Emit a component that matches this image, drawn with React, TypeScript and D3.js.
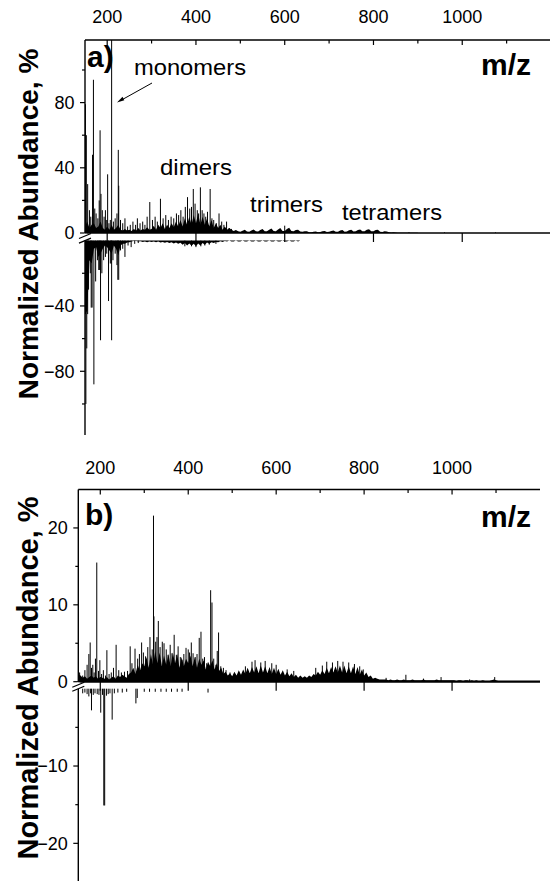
import React from "react";
import * as d3 from "d3";

// ---------- DATA ----------
const GRID_START = 150;
const GRID_STEP = 5;

const xMajorTicks = [200, 400, 600, 800, 1000];
const xMinorTicks = [300, 500, 700, 900, 1100];

const aYMajorPos = [0, 40, 80];
const aYMinorPos = [20, 60, 100];
const aYMajorNeg = [-40, -80];
const aYMinorNeg = [-20, -60, -100];

const bYMajorPos = [0, 10, 20];
const bYMinorPos = [5, 15];
const bYMajorNeg = [-10, -20];
const bYMinorNeg = [-5, -15];

// panel a, positive background envelope (m/z 150..900, every 5)
const aPosEnvelope = [
  4, 7, 3, 5, 6, 3, 4, 7, 3, 2,
  4, 2, 5, 2, 3, 5, 2, 1.5, 2.5, 1.5,
  2, 1.2, 2.5, 1.5, 3, 1.5, 2.5, 2, 3.5, 2,
  2.5, 4.5, 2, 5, 3, 6, 2.5, 5, 3, 6,
  3.5, 7, 4, 8, 4, 9, 5, 10, 5, 11,
  6, 12, 5, 10, 5, 9, 4, 8, 3, 6,
  3, 5, 2, 4, 2, 3,
  2, 1.2, 1.8, 1.0,
  0.8, 1.4, 2.0, 0.9, 0.8, 1.6, 2.2, 1.0, 0.9, 1.8,
  2.4, 1.1, 1.0, 2.0, 2.7, 1.2, 1.1, 2.2, 3.0, 1.3,
  1.2, 2.4, 3.2, 1.3, 1.0, 1.8, 2.0, 0.9, 0.7, 1.1,
  1.0, 0.5, 0.5, 0.8, 0.9, 0.5, 0.6, 1.0, 1.2, 0.6,
  0.7, 1.3, 1.5, 0.7, 0.8, 1.5, 1.8, 0.8, 0.9, 1.7,
  2.0, 0.9, 1.0, 1.9, 2.2, 1.0, 1.0, 2.0, 2.3, 1.0,
  1.0, 1.8, 2.0, 0.8, 0.6, 1.0, 0.9, 0.4, 0.3, 0.4,
  0.3, 0.2, 0.2, 0.1, 0.2, 0.1, 0.1, 0.1, 0.1, 0.1,
  0.1,
];

const aPosPeaks: [number, number][] = [
  [151, 79], [153, 60], [156, 30], [160, 14], [163, 10], [167, 48], [169, 94],
  [172, 15], [175, 12], [179, 9], [182, 20], [184, 63], [186, 24], [189, 14],
  [193, 10], [196, 14], [199, 8], [201, 36], [204, 6], [207, 8], [210, 120],
  [214, 7], [218, 9], [222, 12], [225, 51], [226, 29], [230, 8], [235, 6],
  [240, 9], [246, 4], [252, 5], [258, 7], [264, 5], [268, 9], [274, 6],
  [280, 7], [285, 5], [290, 10], [296, 19], [302, 8], [308, 10], [313, 7],
  [320, 21], [326, 9], [332, 11], [338, 8], [344, 10], [350, 9], [356, 12],
  [361, 11], [366, 14], [371, 10], [376, 16], [381, 22], [386, 15], [390, 16],
  [394, 27], [398, 18], [403, 14], [406, 12], [410, 28], [414, 14], [418, 12],
  [422, 10], [426, 13], [432, 27], [436, 9], [440, 8], [446, 6], [452, 12],
  [458, 7], [463, 5], [469, 7], [475, 3], [480, 2.5], [600, 4.5],
  [880, 0.5], [960, 0.4], [1075, 0.4],
];

// panel a, negative background envelope (m/z 150..645, every 5)
const aNegEnvelope = [
  -45, -43, -12, -14, -5, -4, -10, -8, -5, -3,
  -4, -6, -8, -3, -5, -9, -3, -2, -2, -1.2,
  -1, -0.5, -0.3, -0.2, -0.5, -0.4, -0.8, -0.6, -1, -0.6,
  -0.8, -0.5, -1, -0.6, -1.2, -0.8, -1.3, -0.8, -1.5, -1,
  -1.8, -1.2, -2, -1.3, -2.5, -1.5, -3, -1.8, -3.2, -2,
  -3.5, -1.8, -3, -1.5, -2.5, -1.2, -2, -1, -1.5, -0.8,
  -1, -0.4, -0.8, -0.3, -0.6, 0, -0.5, -0.5, 0, -0.5,
  -0.5, 0, -0.5, -0.5, 0, -0.5, -0.5, 0, -0.5, -0.5,
  0, -0.5, -0.5, 0, -0.5, -0.5, 0, -0.5, -0.5, 0,
  -0.5, -0.5, 0, -0.5, -0.5, 0, -0.5, 0, 0, 0,
];

const aNegPeaks: [number, number][] = [
  [151, -45], [152, -100], [154, -66], [156, -45], [158, -30], [162, -20],
  [164, -41], [166, -41], [170, -88], [174, -25], [178, -12], [181, -18],
  [183, -18], [185, -61], [188, -20], [192, -12], [196, -10], [199, -8],
  [203, -37], [207, -14], [209, -14], [210, -61], [213, -12], [218, -8],
  [222, -15], [224, -24], [226, -24], [230, -6], [235, -5], [240, -10],
  [247, -3], [254, -4], [262, -2], [270, -1.5], [375, -3.5], [390, -3.5],
  [400, -4], [411, -3.5], [420, -3], [430, -2.5], [445, -2],
];

// panel b, positive background envelope (m/z 150..1200, every 5)
const bPosEnvelope = [
  1.0, 0.8, 0.5, 0.7, 0.4, 0.6, 0.8, 0.5, 0.7, 0.4,
  0.6, 0.5, 0.4, 0.6, 0.3, 0.5, 0.7, 0.4, 0.8, 0.6,
  0.9, 0.7, 0.5, 1.0, 1.2, 1.8, 1.0, 2.2, 1.4, 2.4,
  2.0, 3.2, 1.8, 3.6, 2.2, 4.0, 2.4, 3.8, 2.0, 3.4,
  2.2, 3.6, 2.0, 3.8, 2.4, 3.6, 1.8, 3.2, 2.0, 3.0,
  2.4, 3.4, 2.0, 3.2, 1.8, 3.0, 2.2, 2.8, 1.6, 2.6,
  2.0, 2.8, 1.6, 2.4, 1.4, 1.8, 1.0, 1.3, 0.8, 1.1,
  0.7, 1.3, 0.8, 1.5, 0.9, 1.6, 1.0, 1.8, 1.1, 1.9,
  1.2, 2.0, 1.1, 2.1, 1.2, 2.0, 1.1, 1.9, 1.0, 1.8,
  1.0, 1.7, 0.9, 1.5, 0.8, 1.3, 0.7, 1.1, 0.6, 0.9,
  0.5, 0.8, 0.5, 0.7, 0.5, 0.8, 0.6, 1.0, 0.8, 1.3,
  0.9, 1.5, 1.0, 1.8, 1.1, 1.9, 1.2, 2.0, 1.2, 2.1,
  1.2, 2.1, 1.1, 2.0, 1.1, 2.0, 1.0, 1.9, 0.9, 1.6,
  0.8, 1.2, 0.6, 0.8, 0.4, 0.5, 0.4, 0.3, 0.3, 0.3,
  0.3, 0.2, 0.3, 0.2, 0.2, 0.3, 0.2, 0.2, 0.3, 0.2,
  0.2, 0.2, 0.3, 0.2, 0.2, 0.2, 0.2, 0.3, 0.2, 0.2,
  0.2, 0.2, 0.2, 0.3, 0.2, 0.2, 0.2, 0.2, 0.2, 0.2,
  0.2, 0.2, 0.1, 0.2, 0.2, 0.1, 0.2, 0.2, 0.1, 0.2,
  0.1, 0.2, 0.1, 0.1, 0.2, 0.1, 0.1, 0.1, 0.2, 0.3,
  0.2, 0.1, 0.1, 0.1, 0.1, 0.1, 0.1, 0.1, 0.1, 0.1,
  0.1, 0.1, 0.1, 0.1, 0.1, 0.1, 0.1, 0.1, 0.1, 0.1,
  0.1,
];

const bPosPeaks: [number, number][] = [
  [153, 1.2], [160, 0.8], [165, 1.5], [170, 2.2], [174, 3.6], [177, 5.1],
  [180, 1.8], [183, 2.2], [186, 1.2], [189, 3.0], [192, 15.5], [196, 1.4],
  [199, 2.8], [203, 1.0], [207, 1.5], [212, 0.8], [215, 4.1], [220, 1.0],
  [225, 1.2], [230, 1.8], [236, 4.8], [242, 1.5], [248, 1.2], [255, 1.3],
  [262, 1.4], [268, 4.6], [272, 2.4], [279, 4.3], [285, 3.0], [289, 3.6],
  [294, 5.1], [298, 3.8], [303, 3.3], [308, 4.5], [313, 5.8], [318, 4.2],
  [321, 21.6], [322, 8.5], [326, 5.2], [329, 5.8], [332, 7.9], [336, 4.5],
  [341, 5.2], [345, 5.0], [350, 4.2], [354, 3.5], [359, 4.8], [363, 3.7],
  [368, 6.1], [373, 3.5], [377, 4.6], [382, 3.2], [386, 2.8], [390, 3.6],
  [395, 4.4], [400, 4.2], [403, 3.8], [407, 5.1], [411, 3.7], [416, 3.2],
  [420, 3.6], [425, 5.7], [429, 6.5], [433, 3.0], [437, 3.2], [442, 2.4],
  [446, 2.2], [451, 11.9], [454, 10.3], [458, 3.0], [463, 2.2], [466, 4.0],
  [469, 6.4], [474, 2.0], [480, 1.8], [486, 1.5], [495, 1.2], [530, 2.0],
  [545, 2.6], [552, 2.8], [565, 2.5], [575, 2.7], [590, 2.4], [600, 2.2],
  [625, 1.6], [640, 1.4], [690, 1.8], [705, 2.1], [715, 2.6], [728, 2.5],
  [740, 2.7], [752, 2.6], [765, 2.5], [778, 2.3], [790, 2.0], [798, 1.6],
  [850, 0.5], [895, 0.9], [935, 0.4], [975, 0.6], [1040, 0.3], [1097, 0.6],
];

const bNegPeaks: [number, number][] = [
  [160, -0.6], [165, -0.5], [170, -0.7], [174, -1.0], [178, -0.6], [180, -2.8],
  [184, -0.8], [188, -0.6], [193, -0.7], [197, -0.8], [201, -3.1], [205, -0.8],
  [208, -15.1], [210, -15.1], [214, -0.9], [218, -0.7], [222, -0.6], [227, -4.0],
  [232, -0.6], [240, -0.5], [250, -0.5], [260, -0.4], [281, -1.9], [284, -1.2],
  [300, -0.4], [312, -0.4], [325, -0.4], [338, -0.4], [350, -0.4], [362, -0.4],
  [375, -0.4], [386, -0.4], [445, -0.5],
];

// ---------- DRAWING ----------
const FONT = "'Liberation Sans', Arial, Helvetica, sans-serif";
const fmtY = (t: number) => (t < 0 ? "\u2212" + Math.abs(t) : String(t));

type PanelProps = {
  xLeft: number;
  xRight: number;
  topY: number;
  zeroPos: number;
  zeroNeg: number;
  bottomY: number;
  posMax: number;
  negMin: number;
  posEnv: number[];
  negEnv: number[] | null;
  posPeaks: [number, number][];
  negPeaks: [number, number][];
  yMajorPos: number[];
  yMinorPos: number[];
  yMajorNeg: number[];
  yMinorNeg: number[];
  baseWidth: number;
  labelY: number;
};

function Panel(p: PanelProps) {
  const x = d3.scaleLinear().domain([150, 1200]).range([p.xLeft, p.xRight]);
  const yP = d3.scaleLinear().domain([0, p.posMax]).range([p.zeroPos, p.topY]).clamp(true);
  const yN = d3.scaleLinear().domain([0, p.negMin]).range([p.zeroNeg, p.bottomY]).clamp(true);

  const areaP = d3
    .area<number>()
    .x((_, i) => x(GRID_START + i * GRID_STEP))
    .y0(yP(0))
    .y1((d) => yP(d));
  const areaN = d3
    .area<number>()
    .x((_, i) => x(GRID_START + i * GRID_STEP))
    .y0(yN(0))
    .y1((d) => yN(d));

  const ax = p.xLeft;
  const lx = ax - 10.5;
  return (
    <g>
      <path d={areaP(p.posEnv) || ""} fill="#000" />
      {p.negEnv && <path d={areaN(p.negEnv) || ""} fill="#000" />}
      {p.posPeaks.map(([m, v], i) => (
        <line key={"p" + i} x1={x(m)} x2={x(m)} y1={yP(0)} y2={yP(v)} stroke="#000" strokeWidth={1} />
      ))}
      {p.negPeaks.map(([m, v], i) => (
        <line key={"n" + i} x1={x(m)} x2={x(m)} y1={yN(0)} y2={yN(v)} stroke="#000" strokeWidth={1} />
      ))}
      <line x1={ax} x2={p.xRight} y1={p.zeroPos} y2={p.zeroPos} stroke="#000" strokeWidth={p.baseWidth} />
      {xMajorTicks.map((t) => (
        <line key={"bt" + t} x1={x(t)} x2={x(t)} y1={p.zeroPos} y2={p.zeroPos + 9} stroke="#000" strokeWidth={1.2} />
      ))}
      <line x1={ax} x2={p.xRight} y1={p.topY} y2={p.topY} stroke="#000" strokeWidth={1.4} />
      {xMajorTicks.map((t) => (
        <g key={"tt" + t}>
          <line x1={x(t)} x2={x(t)} y1={p.topY} y2={p.topY + 5} stroke="#000" strokeWidth={1.2} />
          <text x={x(t)} y={p.labelY} textAnchor="middle" fontSize={18} fontFamily={FONT}>
            {t}
          </text>
        </g>
      ))}
      {xMinorTicks.map((t) => (
        <line key={"tm" + t} x1={x(t)} x2={x(t)} y1={p.topY} y2={p.topY + 3.5} stroke="#000" strokeWidth={1.2} />
      ))}
      <line x1={ax} x2={ax} y1={p.topY} y2={p.zeroPos} stroke="#000" strokeWidth={1.4} />
      <line x1={ax} x2={ax} y1={p.zeroNeg} y2={p.bottomY} stroke="#000" strokeWidth={1.4} />
      {p.yMajorPos.map((t) => (
        <g key={"yp" + t}>
          <line x1={ax - 5} x2={ax} y1={yP(t)} y2={yP(t)} stroke="#000" strokeWidth={1.2} />
          <text x={lx} y={yP(t)} dy="0.35em" textAnchor="end" fontSize={18} fontFamily={FONT}>
            {fmtY(t)}
          </text>
        </g>
      ))}
      {p.yMinorPos.map((t) => (
        <line key={"ypm" + t} x1={ax - 3} x2={ax} y1={yP(t)} y2={yP(t)} stroke="#000" strokeWidth={1.2} />
      ))}
      {p.yMajorNeg.map((t) => (
        <g key={"yn" + t}>
          <line x1={ax - 5} x2={ax} y1={yN(t)} y2={yN(t)} stroke="#000" strokeWidth={1.2} />
          <text x={lx} y={yN(t)} dy="0.35em" textAnchor="end" fontSize={18} fontFamily={FONT}>
            {fmtY(t)}
          </text>
        </g>
      ))}
      {p.yMinorNeg.map((t) => (
        <line key={"ynm" + t} x1={ax - 3} x2={ax} y1={yN(t)} y2={yN(t)} stroke="#000" strokeWidth={1.2} />
      ))}
      <rect x={ax - 1} y={p.zeroPos + 0.8} width={3} height={p.zeroNeg - p.zeroPos - 1.6} fill="#fff" />
      <line x1={ax - 6} x2={ax + 6} y1={p.zeroPos + 5.5} y2={p.zeroPos + 0.5} stroke="#000" strokeWidth={1.2} />
      <line x1={ax - 6} x2={ax + 6} y1={p.zeroNeg + 2.5} y2={p.zeroNeg - 2.5} stroke="#000" strokeWidth={1.2} />
    </g>
  );
}

export default function App() {
  const titleStyle = { fontFamily: FONT, fontWeight: 700 } as const;
  return (
    <svg
      width={550}
      height={881}
      viewBox="0 0 550 881"
      style={{ position: "absolute", left: 0, top: 0, background: "#fff" }}
    >
      <rect width={550} height={881} fill="#fff" />
      <Panel
        xLeft={85}
        xRight={551}
        topY={40}
        zeroPos={233}
        zeroNeg={240.6}
        bottomY={435}
        posMax={118.4}
        negMin={-119}
        posEnv={aPosEnvelope}
        negEnv={aNegEnvelope}
        posPeaks={aPosPeaks}
        negPeaks={aNegPeaks}
        yMajorPos={aYMajorPos}
        yMinorPos={aYMinorPos}
        yMajorNeg={aYMajorNeg}
        yMinorNeg={aYMinorNeg}
        baseWidth={1.3}
        labelY={23}
      />
      <Panel
        xLeft={78.3}
        xRight={540}
        topY={489.5}
        zeroPos={681.7}
        zeroNeg={688.7}
        bottomY={882}
        posMax={25}
        negMin={-25}
        posEnv={bPosEnvelope}
        negEnv={null}
        posPeaks={bPosPeaks}
        negPeaks={bNegPeaks}
        yMajorPos={bYMajorPos}
        yMinorPos={bYMinorPos}
        yMajorNeg={bYMajorNeg}
        yMinorNeg={bYMinorNeg}
        baseWidth={2.2}
        labelY={474}
      />

      <text x={87} y={67} fontSize={30} {...titleStyle}>a)</text>
      <text x={531} y={75} fontSize={30} textAnchor="end" {...titleStyle}>m/z</text>
      <text x={85} y={525} fontSize={30} {...titleStyle}>b)</text>
      <text x={531} y={527} fontSize={30} textAnchor="end" {...titleStyle}>m/z</text>

      <text transform="translate(38,224) rotate(-90)" textAnchor="middle" fontSize={28} {...titleStyle}>
        Normalized Abundance, %
      </text>
      <text transform="translate(38,678) rotate(-90)" textAnchor="middle" fontSize={29} {...titleStyle}>
        Normalized Abundance, %
      </text>

      <g fontFamily={FONT} fontSize={22}>
        <text x={134} y={75} textLength={112} lengthAdjust="spacingAndGlyphs">monomers</text>
        <text x={160} y={175} textLength={72} lengthAdjust="spacingAndGlyphs">dimers</text>
        <text x={250} y={212} textLength={73} lengthAdjust="spacingAndGlyphs">trimers</text>
        <text x={342} y={220} textLength={100} lengthAdjust="spacingAndGlyphs">tetramers</text>
      </g>
      <line x1={152} y1={83} x2={121} y2={100.3} stroke="#000" strokeWidth={1} />
      <path d="M117,102.5 L122.5,96.8 L124.3,100.2 Z" fill="#000" />
    </svg>
  );
}
